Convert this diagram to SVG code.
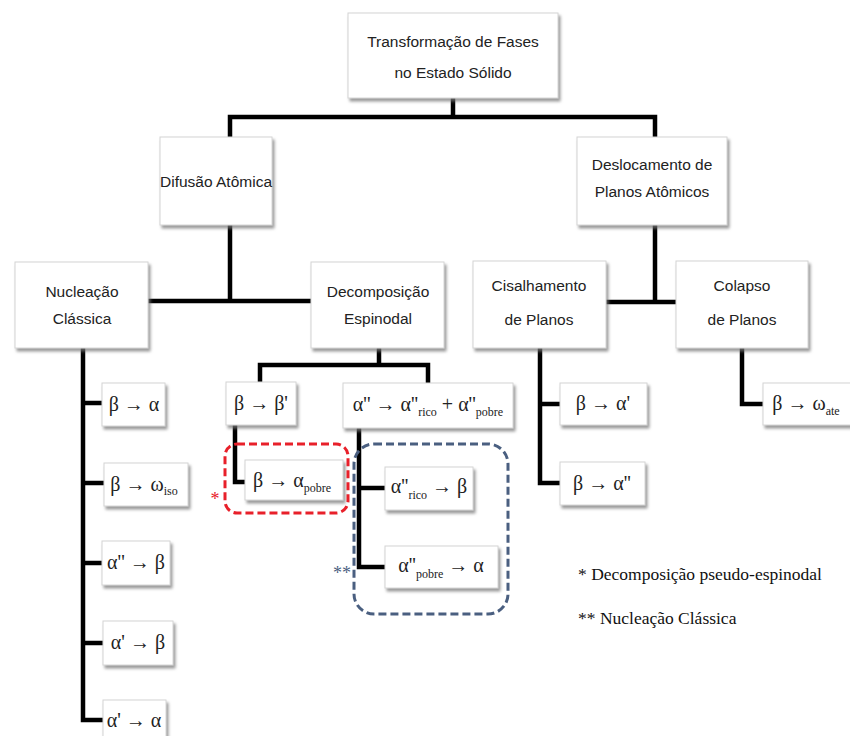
<svg xmlns="http://www.w3.org/2000/svg" width="850" height="736" viewBox="0 0 850 736">
<defs>
<filter id="sh" x="-10%" y="-10%" width="125%" height="130%">
<feDropShadow dx="2" dy="3" stdDeviation="1.8" flood-color="#777" flood-opacity="0.75"/>
</filter>
<style>
.box{fill:#fff;stroke:#d4d4d4;stroke-width:1;filter:url(#sh)}
.t{font-family:"Liberation Sans",Arial,sans-serif;font-size:15.5px;fill:#222;text-anchor:middle}
.f{font-family:"Liberation Serif","DejaVu Serif",serif;font-size:20px;fill:#222;text-anchor:middle}
.s{font-size:12px}
.ln{fill:none;stroke:#000;stroke-width:4.5;stroke-linejoin:miter}
.lg{font-family:"Liberation Serif","Times New Roman",serif;font-size:17.5px;fill:#111}
</style>
</defs>
<rect width="850" height="736" fill="#fff"/>

<g id="connectors">
<path class="ln" d="M453,98 V117 M230,137 V117 H655 V137"/>
<path class="ln" d="M230,225 V301 M148,301 H311"/>
<path class="ln" d="M655,225 V302 M606,302 H676"/>
<path class="ln" d="M83,348 V720 H103 M83,403 H102 M83,483 H104 M83,563 H102 M83,643 H103"/>
<path class="ln" d="M379,348 V365 M260,382 V365 H428 V383"/>
<path class="ln" d="M235,425 V482 H245"/>
<path class="ln" d="M359,428 V567 H385 M359,488 H385"/>
<path class="ln" d="M540,348 V483 H560 M540,404 H560"/>
<path class="ln" d="M742,348 V404 H763"/>
</g>

<g id="n-top"><rect class="box" x="348" y="13" width="210" height="85"/>
<text class="t" x="453" y="47">Transformação de Fases</text><text class="t" x="453" y="78">no Estado Sólido</text></g>

<g id="n-difusao"><rect class="box" x="160" y="137" width="112" height="88"/>
<text class="t" x="216" y="187">Difusão Atômica</text></g>

<g id="n-deslocamento"><rect class="box" x="577" y="137" width="150" height="88"/>
<text class="t" x="652" y="170">Deslocamento de</text><text class="t" x="652" y="197">Planos Atômicos</text></g>

<g id="n-nucleacao"><rect class="box" x="15" y="262" width="133" height="86"/>
<text class="t" x="82" y="297">Nucleação</text><text class="t" x="82" y="324">Clássica</text></g>

<g id="n-decomposicao"><rect class="box" x="311" y="262" width="133" height="86"/>
<text class="t" x="378" y="297">Decomposição</text><text class="t" x="378" y="324">Espinodal</text></g>

<g id="n-cisalhamento"><rect class="box" x="473" y="261" width="133" height="87"/>
<text class="t" x="539" y="291">Cisalhamento</text><text class="t" x="539" y="325">de Planos</text></g>

<g id="n-colapso"><rect class="box" x="676" y="261" width="132" height="87"/>
<text class="t" x="742" y="291">Colapso</text><text class="t" x="742" y="325">de Planos</text></g>

<g id="n-b-a"><rect class="box" x="102" y="383" width="63" height="43"/>
<text class="f" x="134" y="411">β → α</text></g>

<g id="n-b-wiso"><rect class="box" x="104" y="463" width="84" height="43"/>
<text class="f" x="144" y="491">β → ω<tspan class="s" dy="4">iso</tspan></text></g>

<g id="n-a2-b"><rect class="box" x="102" y="541" width="68" height="44"/>
<text class="f" x="136" y="569">α'' → β</text></g>

<g id="n-a1-b"><rect class="box" x="103" y="621" width="70" height="44"/>
<text class="f" x="138" y="649">α' → β</text></g>

<g id="n-a1-a"><rect class="box" x="103" y="700" width="63" height="44"/>
<text class="f" x="134" y="727">α' → α</text></g>

<g id="n-b-b1"><rect class="box" x="226" y="382" width="70" height="43"/>
<text class="f" x="261" y="410">β → β'</text></g>

<g id="n-a2-split"><rect class="box" x="343" y="383" width="170" height="45"/>
<text class="f" x="428" y="411">α'' → α''<tspan class="s" dy="5">rico</tspan><tspan dy="-5"> + α''</tspan><tspan class="s" dy="5">pobre</tspan></text></g>

<g id="n-b-apobre"><rect class="box" x="245" y="460" width="98" height="40"/>
<text class="f" x="292" y="487">β → α<tspan class="s" dy="5">pobre</tspan></text></g>

<g id="n-a2rico-b"><rect class="box" x="385" y="467" width="88" height="43"/>
<text class="f" x="429" y="493">α''<tspan class="s" dy="6">rico</tspan><tspan dy="-6"> → β</tspan></text></g>

<g id="n-a2pobre-a"><rect class="box" x="385" y="546" width="113" height="42"/>
<text class="f" x="441" y="572">α''<tspan class="s" dy="6">pobre</tspan><tspan dy="-6"> → α</tspan></text></g>

<g id="n-b-a1"><rect class="box" x="560" y="383" width="87" height="42"/>
<text class="f" x="603" y="410">β → α'</text></g>

<g id="n-b-a2"><rect class="box" x="560" y="462" width="85" height="43"/>
<text class="f" x="602" y="490">β → α''</text></g>

<g id="n-b-wate"><rect class="box" x="763" y="383" width="90" height="42"/>
<text class="f" x="806" y="410">β → ω<tspan class="s" dy="5">ate</tspan></text></g>

<g id="groups">
<rect x="225" y="444" width="123" height="69" rx="12" fill="none" stroke="#e8202a" stroke-width="3" stroke-dasharray="8,4"/>
<rect x="354" y="444" width="154" height="170" rx="20" fill="none" stroke="#4a5f80" stroke-width="3" stroke-dasharray="8,4"/>
<text x="215" y="505" font-family="Liberation Serif,serif" font-size="18" fill="#e8202a" text-anchor="middle">*</text>
<text x="342" y="579" font-family="Liberation Serif,serif" font-size="18" fill="#4a5f80" text-anchor="middle">**</text>
</g>

<g id="legend">
<text class="lg" x="578" y="580">* Decomposição pseudo-espinodal</text>
<text class="lg" x="578" y="624">** Nucleação Clássica</text>
</g>
</svg>
